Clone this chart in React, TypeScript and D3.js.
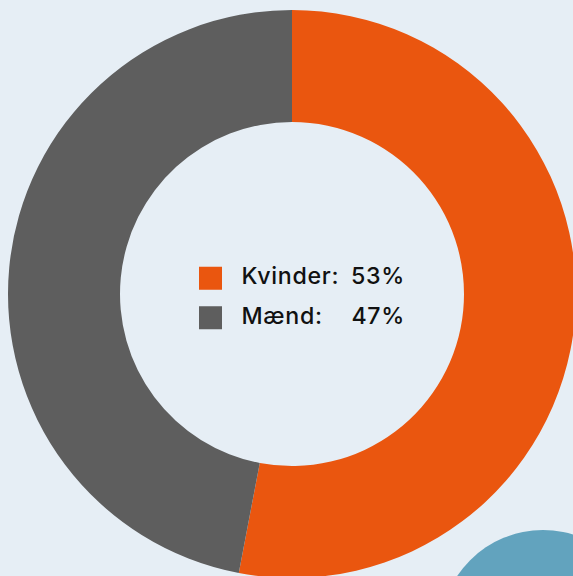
import React from "react";
import * as d3 from "d3";

const categories = ["Kvinder", "Mænd"];
const values = [53, 47];
const labels = ["53%", "47%"];
const colors = ["#ea560f", "#5e5e5e"];

const W = 573;
const H = 576;

export default function App() {
  const cx = 292;
  const cy = 294;
  const outerR = 284;
  const innerR = 172;
  const pie = d3.pie<number>().sort(null).startAngle(0).endAngle(2 * Math.PI);
  const arcs = pie(values);
  const arc = d3.arc<d3.PieArcDatum<number>>().innerRadius(innerR).outerRadius(outerR);
  const legendY = d3.scaleBand<string>().domain(categories).range([258.5, 337.5]);
  const font = "Inter, 'Noto Sans', sans-serif";

  return (
    <div style={{ position: "absolute", left: 0, top: 0, width: W, height: H, overflow: "hidden" }}>
      <svg width={W} height={H} style={{ display: "block" }}>
        <rect x={0} y={0} width={W} height={H} fill="#e6eef5" />
        <g transform={`translate(${cx},${cy})`}>
          {arcs.map((a, i) => (
            <path key={i} d={arc(a) || ""} fill={colors[i]} />
          ))}
        </g>
        <circle cx={543} cy={633} r={103} fill="#62a3be" />
        {categories.map((c, i) => {
          const y = (legendY(c) || 0) + legendY.bandwidth() / 2;
          return (
            <g key={c}>
              <rect x={199} y={y - 11.5} width={23} height={23} fill={colors[i]} />
              <text
                x={241.5}
                y={y + 6}
                fontFamily={font}
                fontWeight={500}
                fontSize={23.2}
                letterSpacing={0.7}
                fill="#111"
              >
                {c}:
              </text>
              <text
                x={405}
                y={y + 6}
                textAnchor="end"
                fontFamily={font}
                fontWeight={500}
                fontSize={23.2}
                letterSpacing={0.7}
                fill="#111"
              >
                {labels[i]}
              </text>
            </g>
          );
        })}
      </svg>
    </div>
  );
}
